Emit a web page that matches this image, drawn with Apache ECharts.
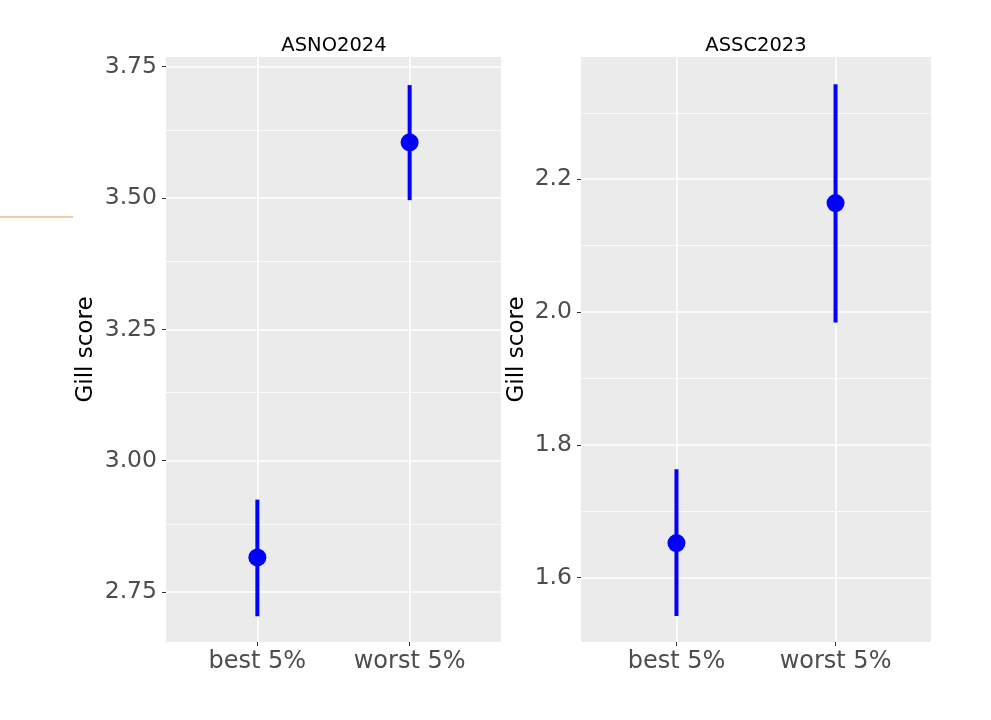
<!DOCTYPE html>
<html>
<head>
<meta charset="utf-8">
<script src="https://cdn.jsdelivr.net/npm/echarts@6/dist/echarts.min.js"></script>
<style>
html,body{margin:0;padding:0;background:#fff;}
#gill_chart{width:991px;height:720px;}
</style>
</head>
<body>
<div id="gill_chart"></div>
<script>
var groups = ['best 5%', 'worst 5%'];
var groupPos = [1, 2];

// ASNO2024 panel
var asnoMean = [2.816, 3.606];
var asnoLow = [2.704, 3.496];
var asnoHigh = [2.926, 3.715];
var asnoTicks = [2.75, 3.00, 3.25, 3.50, 3.75];
var asnoMinor = [2.875, 3.125, 3.375, 3.625];

// ASSC2023 panel
var asscMean = [1.652, 2.164];
var asscLow = [1.542, 1.984];
var asscHigh = [1.763, 2.343];
var asscTicks = [1.6, 1.8, 2.0, 2.2];
var asscMinor = [1.7, 1.9, 2.1, 2.3];

var font = 'DejaVu Sans';

var barData = function(low, high) {
    return groupPos.map(function(x, i) { return [x, low[i], high[i]]; });
};
var pointData = function(mean) {
    return groupPos.map(function(x, i) { return [x, mean[i]]; });
};
var minorLines = function(vals) {
    return vals.map(function(v) { return {yAxis: v}; });
};

var renderBar = function(params, api) {
    var x = api.value(0);
    var p1 = api.coord([x, api.value(1)]);
    var p2 = api.coord([x, api.value(2)]);
    return {
        type: 'line',
        shape: {x1: p1[0], y1: p1[1], x2: p2[0], y2: p2[1]},
        style: {stroke: '#0000ff', lineWidth: 4}
    };
};

var xAxisOf = function(idx) {
    return {
        type: 'value', gridIndex: idx, min: 0.4, max: 2.6,
        axisLine: {show: false},
        axisTick: {show: true, length: 4, customValues: groupPos, lineStyle: {color: '#333', width: 1}},
        axisLabel: {
            customValues: groupPos, margin: 8, color: '#4d4d4d', fontSize: 24, fontFamily: font,
            formatter: function(v) { return groups[Math.round(v) - 1]; }
        },
        splitLine: {show: true, lineStyle: {color: '#fff', width: 1.6}}
    };
};
var yAxisOf = function(idx, min, max, ticks, digits, gap) {
    return {
        type: 'value', gridIndex: idx, min: min, max: max,
        name: 'Gill score', nameLocation: 'middle', nameGap: gap,
        nameTextStyle: {color: '#000', fontSize: 23, fontFamily: font},
        axisLine: {show: false},
        axisTick: {show: true, length: 4, customValues: ticks, lineStyle: {color: '#333', width: 1}},
        axisLabel: {
            customValues: ticks, margin: 9, color: '#4d4d4d', fontSize: 23.5, fontFamily: font,
            formatter: function(v) { return v.toFixed(digits); }
        },
        splitLine: {show: true, lineStyle: {color: '#fff', width: 1.6}}
    };
};

var gillChart = echarts.init(document.getElementById('gill_chart'));
var option = {
    animation: false,
    backgroundColor: '#fff',
    title: [
        {text: 'ASNO2024', left: 329, top: 31, textAlign: 'center',
         textStyle: {fontSize: 19.5, fontWeight: 'normal', color: '#000', fontFamily: font}},
        {text: 'ASSC2023', left: 751, top: 31, textAlign: 'center',
         textStyle: {fontSize: 19.5, fontWeight: 'normal', color: '#000', fontFamily: font}}
    ],
    grid: [
        {left: 166, right: 490, top: 57, bottom: 78, backgroundColor: '#ebebeb', show: true, borderWidth: 0},
        {left: 581, right: 60, top: 57, bottom: 78, backgroundColor: '#ebebeb', show: true, borderWidth: 0}
    ],
    xAxis: [xAxisOf(0), xAxisOf(1)],
    yAxis: [
        yAxisOf(0, 2.655, 3.7685, asnoTicks, 2, 68),
        yAxisOf(1, 1.503, 2.384, asscTicks, 1, 52)
    ],
    graphic: [
        {type: 'line', shape: {x1: 0, y1: 217, x2: 73, y2: 217}, style: {stroke: '#e39a52', lineWidth: 1.2}}
    ],
    series: [
        {type: 'line', xAxisIndex: 0, yAxisIndex: 0, data: [], z: 1, silent: true,
         markLine: {z: 1, silent: true, symbol: 'none', label: {show: false},
                    lineStyle: {color: '#fff', width: 0.8, type: 'solid'}, data: minorLines(asnoMinor)}},
        {type: 'line', xAxisIndex: 1, yAxisIndex: 1, data: [], z: 1, silent: true,
         markLine: {z: 1, silent: true, symbol: 'none', label: {show: false},
                    lineStyle: {color: '#fff', width: 0.8, type: 'solid'}, data: minorLines(asscMinor)}},
        {type: 'custom', xAxisIndex: 0, yAxisIndex: 0, z: 3, renderItem: renderBar,
         encode: {x: 0, y: [1, 2]}, data: barData(asnoLow, asnoHigh)},
        {type: 'custom', xAxisIndex: 1, yAxisIndex: 1, z: 3, renderItem: renderBar,
         encode: {x: 0, y: [1, 2]}, data: barData(asscLow, asscHigh)},
        {type: 'scatter', xAxisIndex: 0, yAxisIndex: 0, z: 4, symbolSize: 18,
         itemStyle: {color: '#0000ff', opacity: 1}, data: pointData(asnoMean)},
        {type: 'scatter', xAxisIndex: 1, yAxisIndex: 1, z: 4, symbolSize: 18,
         itemStyle: {color: '#0000ff', opacity: 1}, data: pointData(asscMean)}
    ]
};
gillChart.setOption(option);
</script>
</body>
</html>
